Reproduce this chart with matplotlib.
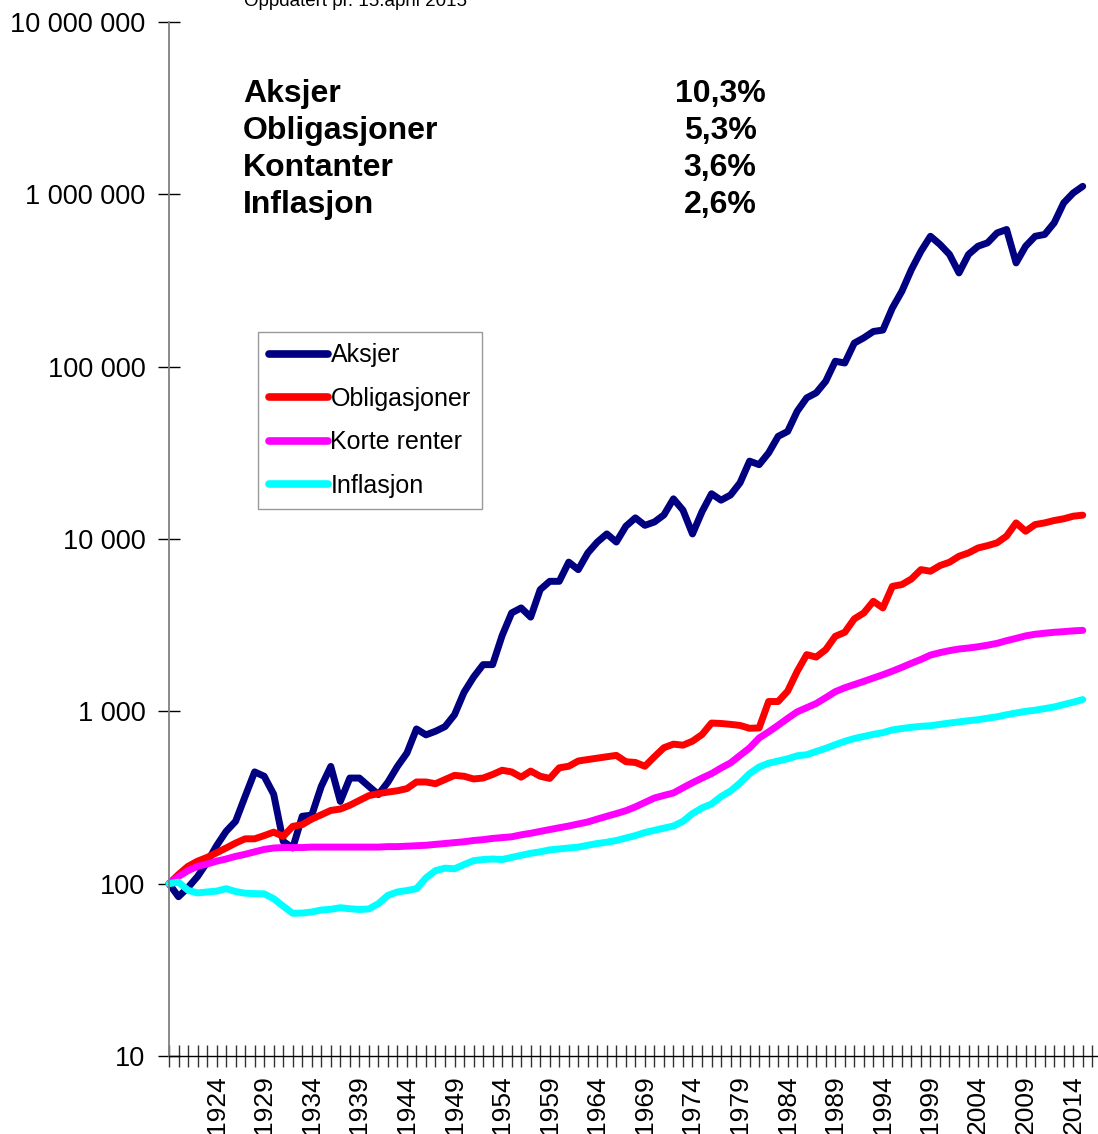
import matplotlib
matplotlib.use("Agg")
from matplotlib import pyplot as plt

plt.rcParams['font.family'] = ['Liberation Sans', 'DejaVu Sans']

# years 1919 - 2015, index value 100 at start
first_year = 1919
aksjer = [100, 84, 95, 110, 133, 166, 201, 230, 321, 445,
          420, 330, 176, 161, 246, 250, 367, 479, 300, 410,
          410, 367, 329, 388, 479, 573, 790, 730, 766, 815,
          956, 1290, 1580, 1866, 1866, 2750, 3723, 3981, 3520, 5082,
          5680, 5680, 7340, 6640, 8300, 9600, 10700, 9600, 11860, 13260,
          12000, 12550, 13800, 17100, 14700, 10700, 14400, 18300, 16800, 18000,
          21200, 28300, 27000, 31600, 39400, 42100, 55100, 65900, 70500, 82300,
          107500, 105000, 137000, 147000, 160000, 163000, 219000, 274000, 366000, 467000,
          571000, 512000, 448000, 350000, 448000, 500000, 523000, 597000, 625000, 400000,
          500000, 571000, 585000, 683000, 892000, 1018000, 1113000]
obligasjoner = [100, 113, 126, 135, 142, 151, 161, 172, 182, 182,
                190, 199, 188, 215, 220, 237, 251, 266, 271, 285,
                304, 324, 333, 340, 346, 356, 389, 389, 380, 402,
                425, 420, 405, 410, 430, 455, 445, 415, 450, 420,
                408, 470, 480, 515, 525, 535, 545, 555, 510, 505,
                480, 545, 615, 645, 636, 671, 733, 855, 850, 840,
                828, 797, 801, 1140, 1140, 1310, 1706, 2133, 2064, 2280,
                2724, 2875, 3440, 3723, 4350, 3981, 5310, 5440, 5860, 6640,
                6500, 7010, 7330, 7940, 8300, 8870, 9150, 9500, 10400, 12400,
                11090, 12130, 12400, 12800, 13100, 13560, 13750]
korte_renter = [100, 110, 119, 126, 130, 135, 139, 144, 148, 153,
                158, 161, 162, 162, 162, 163, 163, 163, 163, 163,
                163, 163, 163, 164, 164, 165, 166, 167, 169, 171,
                173, 175, 178, 180, 183, 185, 187, 192, 196, 201,
                206, 211, 216, 222, 228, 237, 246, 255, 265, 279,
                296, 314, 325, 336, 360, 385, 410, 435, 469, 502,
                555, 613, 700, 760, 830, 910, 993, 1050, 1110, 1200,
                1300, 1370, 1430, 1492, 1560, 1630, 1710, 1800, 1900, 2000,
                2120, 2190, 2250, 2300, 2330, 2370, 2420, 2480, 2570, 2650,
                2740, 2800, 2840, 2875, 2900, 2930, 2950]
inflasjon = [100, 102, 91.5, 88.3, 89.5, 90.5, 93.5, 90, 88, 87.5,
             87.3, 81.8, 74, 67.3, 67.5, 68.5, 70.3, 71, 72.5, 71.5,
             70.8, 71.3, 76.5, 85.5, 89.5, 91.2, 93.5, 108, 119, 123,
             122, 129, 136, 138, 139, 138, 142, 146, 150, 153,
             157, 159, 161, 163, 167, 171, 174, 178, 184, 190,
             198, 204, 210, 216, 230, 255, 275, 290, 320, 345,
             384, 435, 475, 500, 515, 530, 552, 560, 585, 610,
             640, 670, 695, 715, 735, 752, 780, 795, 808, 818,
             825, 840, 855, 868, 882, 894, 912, 930, 955, 978,
             1000, 1015, 1037, 1060, 1095, 1130, 1170]
years = list(range(first_year, first_year + len(aksjer)))

series_names = ['Aksjer', 'Obligasjoner', 'Korte renter', 'Inflasjon']
series_colors = ['#000080', '#FF0000', '#FF00FF', '#00FFFF']

summary_names = ['Aksjer', 'Obligasjoner', 'Kontanter', 'Inflasjon']
summary_values = ['10,3%', '5,3%', '3,6%', '2,6%']

y_ticks = [10, 100, 1000, 10000, 100000, 1000000, 10000000]
y_labels = ['10', '100', '1 000', '10 000', '100 000', '1 000 000', '10 000 000']

fig = plt.figure(figsize=(10.98, 11.34), dpi=100)
ax = fig.add_axes([0.1539, 0.0688, 0.8452, 0.9118])

for name, data, color in zip(series_names, [aksjer, obligasjoner, korte_renter, inflasjon], series_colors):
    ax.plot(years, data, color=color, lw=5.0, label=name, clip_on=False,
            solid_joinstyle='round', solid_capstyle='round')

ax.set_yscale('log')
ax.set_ylim(10, 10000000)
ax.set_xlim(first_year, first_year + 97.5)
ax.set_yticks(y_ticks)
ax.set_yticklabels(y_labels)
ax.minorticks_off()

tick_years = years + [years[-1] + 1]
ax.set_xticks(tick_years)
ax.set_xticklabels([str(y) if y >= 1924 and (y - 1924) % 5 == 0 and y <= 2014 else '' for y in tick_years],
                   rotation=90)

ax.tick_params(axis='y', direction='inout', length=16, width=1, labelsize=19.5, pad=9, color='black')
ax.tick_params(axis='x', direction='inout', length=16, width=1, labelsize=19, pad=6, color='#333333')

for side in ['top', 'right']:
    ax.spines[side].set_visible(False)
ax.spines['left'].set_color('#808080')
ax.spines['left'].set_linewidth(1.3)
ax.spines['bottom'].set_color('black')
ax.spines['bottom'].set_linewidth(1)

leg = ax.legend(loc='upper left', bbox_to_anchor=(258 / 1098, 1 - 332 / 1134),
                bbox_transform=fig.transFigure, fontsize=18, frameon=True, fancybox=False,
                edgecolor='#808080', handlelength=2.35, handletextpad=0.1,
                labelspacing=0.78, borderpad=0.45, borderaxespad=0)
leg.get_frame().set_linewidth(1)
for line in leg.get_lines():
    line.set_linewidth(5.5)

# summary text block
row_y = [94, 131, 168, 205]
for name, value, yp in zip(summary_names, summary_values, row_y):
    fig.text(243 / 1098, 1 - yp / 1134, name, fontsize=23, fontweight='bold', va='center', ha='left')
    fig.text(720 / 1098, 1 - yp / 1134, value, fontsize=23, fontweight='bold', va='center', ha='center')

fig.text(355 / 1098, 1 - 6 / 1134, 'Oppdatert pr. 15.april 2015', fontsize=13.5, ha='center', va='baseline')

fig.savefig('out.png', dpi=100)
